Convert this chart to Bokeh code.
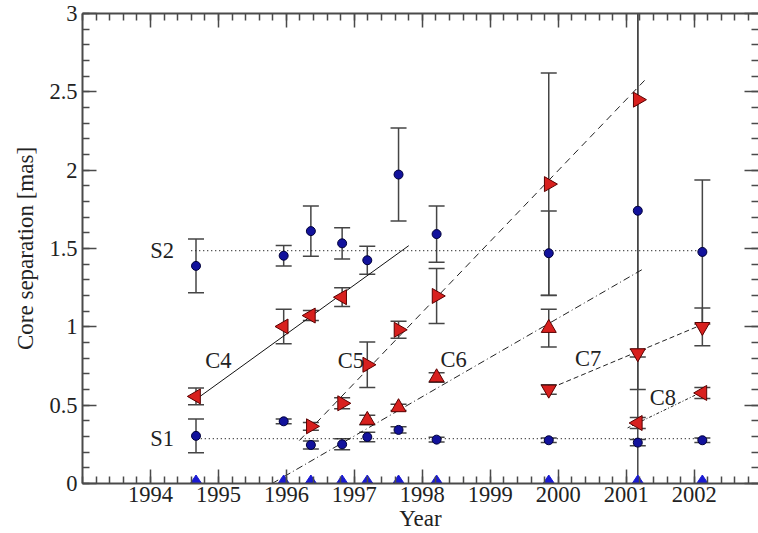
import numpy as np
from bokeh.plotting import figure
from bokeh.models import ColumnDataSource, LinearAxis, Range1d, FixedTicker, CustomJSTickFormatter
from bokeh.embed import file_html
from bokeh.resources import INLINE
from bokeh.core.properties import value

# ---------------- data ----------------
# core (reference point) epochs
core_year = [1994.67, 1995.96, 1996.36, 1996.82, 1997.19, 1997.65, 1998.21, 1999.86, 2001.17, 2002.12]
core_sep = [0, 0, 0, 0, 0, 0, 0, 0, 0, 0]

# stationary components S1 / S2 (blue circles)
blue_year = [1994.67, 1994.67, 1995.96, 1995.96, 1996.36, 1996.36, 1996.82, 1996.82,
             1997.19, 1997.19, 1997.65, 1997.65, 1998.21, 1998.21, 1999.86, 1999.86,
             2001.17, 2001.17, 2002.12, 2002.12]
blue_sep = [1.389, 0.304, 1.454, 0.397, 1.611, 0.246, 1.533, 0.250,
            1.425, 0.297, 1.972, 0.342, 1.592, 0.280, 1.470, 0.276,
            1.741, 0.261, 1.478, 0.276]
blue_err = [0.172, 0.107, 0.065, 0.015, 0.160, 0.025, 0.100, 0.035,
            0.090, 0.030, 0.297, 0.020, 0.180, 0.015, 0.270, 0.015,
            1.800, 0.020, 0.460, 0.015]

# moving components
c4_year = [1994.67, 1995.96, 1996.36, 1996.82]
c4_sep = [0.556, 1.002, 1.072, 1.189]
c4_err = [0.053, 0.110, 0.032, 0.060]

c5_year = [1996.36, 1996.82, 1997.19, 1997.65, 1998.21, 1999.86, 2001.17]
c5_sep = [0.365, 0.512, 0.758, 0.981, 1.197, 1.911, 2.450]
c5_err = [0.025, 0.035, 0.145, 0.054, 0.176, 0.710, 1.850]

c6_year = [1997.19, 1997.65, 1998.21, 1999.86]
c6_sep = [0.405, 0.486, 0.677, 0.992]
c6_err = [0.030, 0.020, 0.030, 0.120]

c7_year = [1999.86, 2001.17, 2002.12]
c7_sep = [0.600, 0.832, 1.000]
c7_err = [0.030, 0.025, 0.120]

c8_year = [2001.17, 2002.12]
c8_sep = [0.386, 0.578]
c8_err = [0.035, 0.035]

# fitted tracks
s2_fit_x = [1994.60, 2002.15]
s2_fit_y = [1.487, 1.487]
s1_fit_x = [1994.74, 2002.15]
s1_fit_y = [0.287, 0.287]
c4_fit_x = [1994.73, 1997.80]
c4_fit_y = [0.556, 1.518]
c5_fit_x = [1996.19, 2001.27]
c5_fit_y = [0.274, 2.573]
c6_fit_x = [1995.79, 2001.24]
c6_fit_y = [0.000, 1.367]
c7_fit_x = [2000.01, 2002.05]
c7_fit_y = [0.631, 1.002]
c8_fit_x = [2001.02, 2002.03]
c8_fit_y = [0.355, 0.567]

# component labels
label_text = ["S2", "S1", "C4", "C5", "C6", "C7", "C8"]
label_x = [1994.17, 1994.17, 1995.00, 1996.95, 1998.46, 2000.44, 2001.54]
label_y = [1.490, 0.287, 0.787, 0.787, 0.790, 0.796, 0.551]

x_major = [1994, 1995, 1996, 1997, 1998, 1999, 2000, 2001, 2002]
y_major = [0, 0.5, 1, 1.5, 2, 2.5, 3]
y_tick_labels = ["0", "0.5", "1", "1.5", "2", "2.5", "3"]

# ---------------- styling ----------------
FONT = "Liberation Serif"
AX = "#4a4a4a"
ERR = "#454545"
RED = "#d8201e"
RED_LINE = "#5a0000"
BLUE = "#12129c"
BLUE_LINE = "#00003a"
DIAM = "#1a1ad2"

x_minor = [round(1993 + 0.2 * i, 1) for i in range(0, 50)]
y_minor = [round(0.1 * i, 1) for i in range(0, 31)]

p = figure(width=758, height=533, output_backend="svg", toolbar_location=None,
           x_range=Range1d(1993, 2002.946), y_range=Range1d(0, 3),
           min_border_left=82, min_border_right=0, min_border_top=13, min_border_bottom=45,
           background_fill_color="white", border_fill_color="white")
p.grid.visible = False
p.outline_line_color = None

xt = FixedTicker(ticks=x_major, minor_ticks=x_minor)
yt = FixedTicker(ticks=y_major, minor_ticks=y_minor)


def style_axis(ax, labels=True):
    ax.axis_line_color = AX
    ax.axis_line_width = 2
    ax.major_tick_line_color = AX
    ax.minor_tick_line_color = AX
    ax.major_tick_line_width = 1.5
    ax.minor_tick_line_width = 1.5
    ax.major_tick_in = 14
    ax.major_tick_out = 0
    ax.minor_tick_in = 7
    ax.minor_tick_out = 0
    ax.major_label_text_font = FONT
    ax.major_label_text_color = "#222222"
    ax.axis_label_text_font = FONT
    ax.axis_label_text_font_style = "normal"
    ax.axis_label_text_color = "#222222"
    if labels:
        ax.major_label_text_font_size = "22.5px"
        ax.axis_label_text_font_size = "23px"
    else:
        ax.formatter = CustomJSTickFormatter(code="return '';")
        ax.major_label_text_font_size = "1px"
        ax.major_label_standoff = 0


xb = p.xaxis[0]
xb.ticker = xt
style_axis(xb)
xb.axis_label = "Year"
xb.major_label_standoff = 3
xb.axis_label_standoff = 1

yl = p.yaxis[0]
yl.ticker = yt
style_axis(yl)
yl.axis_label = "Core separation [mas]"
yl.major_label_overrides = {v: t for v, t in zip(y_major, y_tick_labels)}
yl.major_label_standoff = 5
yl.axis_label_standoff = 8

xtop = LinearAxis(ticker=xt)
style_axis(xtop, labels=False)
p.add_layout(xtop, "above")

yr = LinearAxis(ticker=yt)
style_axis(yr, labels=False)
yr.axis_line_color = None
p.add_layout(yr, "right")


# ---------------- error bars ----------------
def errbars(xs, ys, es):
    lo = [y - e for y, e in zip(ys, es)]
    hi = [y + e for y, e in zip(ys, es)]
    src = ColumnDataSource(dict(x=xs, lo=lo, hi=hi))
    p.segment(x0="x", y0="lo", x1="x", y1="hi", source=src, line_color=ERR, line_width=1.5)
    p.scatter(x="x", y="lo", source=src, marker="dash", size=16, line_color=ERR, line_width=1.5)
    p.scatter(x="x", y="hi", source=src, marker="dash", size=16, line_color=ERR, line_width=1.5)


errbars(blue_year, blue_sep, blue_err)
errbars(c4_year, c4_sep, c4_err)
errbars(c5_year, c5_sep, c5_err)
errbars(c6_year, c6_sep, c6_err)
errbars(c7_year, c7_sep, c7_err)
errbars(c8_year, c8_sep, c8_err)

# ---------------- fitted tracks ----------------
p.line(s2_fit_x, s2_fit_y, line_color="#222222", line_width=1.2, line_dash="1 3")
p.line(s1_fit_x, s1_fit_y, line_color="#222222", line_width=1.2, line_dash="1 3")
p.line(c4_fit_x, c4_fit_y, line_color="#111111", line_width=1)
p.line(c5_fit_x, c5_fit_y, line_color="#222222", line_width=1, line_dash="7 5")
p.line(c6_fit_x, c6_fit_y, line_color="#222222", line_width=1, line_dash="7 3 1 3")
p.line(c7_fit_x, c7_fit_y, line_color="#222222", line_width=1, line_dash="5 3")
p.line(c8_fit_x, c8_fit_y, line_color="#222222", line_width=1, line_dash="3 2 1 2")

# ---------------- markers ----------------
p.scatter(core_year, core_sep, marker="diamond", size=17, fill_color=DIAM, line_color=DIAM)
p.scatter(blue_year, blue_sep, marker="circle", size=9, fill_color=BLUE, line_color=BLUE_LINE, line_width=1)
tri = dict(size=15, fill_color=RED, line_color=RED_LINE, line_width=1)
p.scatter(c4_year, c4_sep, marker="triangle", angle=np.pi / 2, **tri)
p.scatter(c5_year, c5_sep, marker="triangle", angle=-np.pi / 2, **tri)
p.scatter(c6_year, c6_sep, marker="triangle", **tri)
p.scatter(c7_year, c7_sep, marker="inverted_triangle", **tri)
p.scatter(c8_year, c8_sep, marker="triangle", angle=np.pi / 2, **tri)

# ---------------- labels ----------------
p.text(x=label_x, y=label_y, text=label_text, text_font=value(FONT), text_font_size="22.5px",
       text_color="#222222", text_align="center", text_baseline="middle")

open("out.html", "w").write(file_html(p, INLINE))
